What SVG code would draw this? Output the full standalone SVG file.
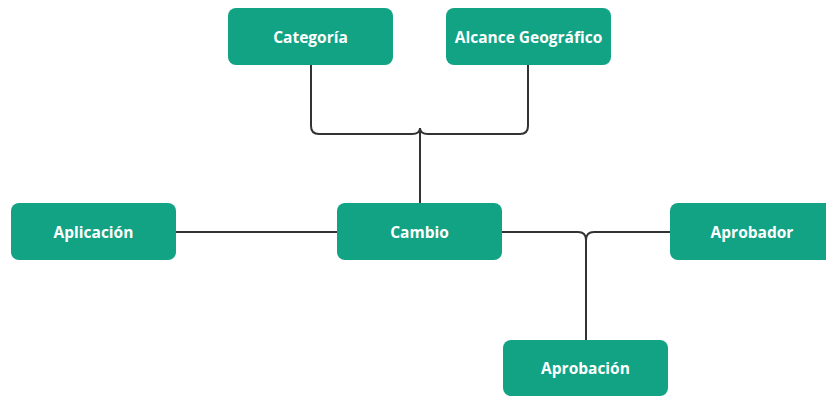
<svg xmlns="http://www.w3.org/2000/svg" width="826" height="398" viewBox="0 0 826 398">
  <style>
    .box { fill: #12a385; }
    .lbl { fill: #ffffff; font-family: "Open Sans", "Noto Sans", sans-serif; font-weight: 700; font-size: 15.5px; text-anchor: middle; dominant-baseline: central; }
    .conn { fill: none; stroke: #333333; stroke-width: 2; stroke-linejoin: round; }
  </style>
  <rect width="826" height="398" fill="#ffffff"/>
  <g id="connectors">
    <!-- Categoría / Alcance Geográfico join above Cambio -->
    <path class="conn" d="M311,65 V126 Q311,134 319,134 H412 Q420,134 420,128"/>
    <path class="conn" d="M528,65 V126 Q528,134 520,134 H428 Q420,134 420,128"/>
    <path class="conn" d="M420,128 V203"/>
    <!-- Aplicación to Cambio -->
    <path class="conn" d="M176,232 H337"/>
    <!-- Cambio / Aprobador join into Aprobación -->
    <path class="conn" d="M502,232 H578 Q586,232 586,240"/>
    <path class="conn" d="M670,232 H594 Q586,232 586,240"/>
    <path class="conn" d="M586,240 V340"/>
  </g>
  <g id="categoria">
    <rect class="box" x="228" y="8" width="165" height="57" rx="8"/>
    <text class="lbl" x="310.5" y="36.5">Categoría</text>
  </g>
  <g id="alcance">
    <rect class="box" x="446" y="8" width="165" height="57" rx="8"/>
    <text class="lbl" x="528.5" y="36.5">Alcance Geográfico</text>
  </g>
  <g id="aplicacion">
    <rect class="box" x="11" y="203" width="165" height="57" rx="8"/>
    <text class="lbl" x="93.5" y="231.5">Aplicación</text>
  </g>
  <g id="cambio">
    <rect class="box" x="337" y="203" width="165" height="57" rx="8"/>
    <text class="lbl" x="419.5" y="231.5">Cambio</text>
  </g>
  <g id="aprobador">
    <rect class="box" x="670" y="203" width="165" height="57" rx="8"/>
    <text class="lbl" x="752" y="231.5">Aprobador</text>
  </g>
  <g id="aprobacion">
    <rect class="box" x="503" y="340" width="165" height="56" rx="8"/>
    <text class="lbl" x="585.5" y="368">Aprobación</text>
  </g>
</svg>
